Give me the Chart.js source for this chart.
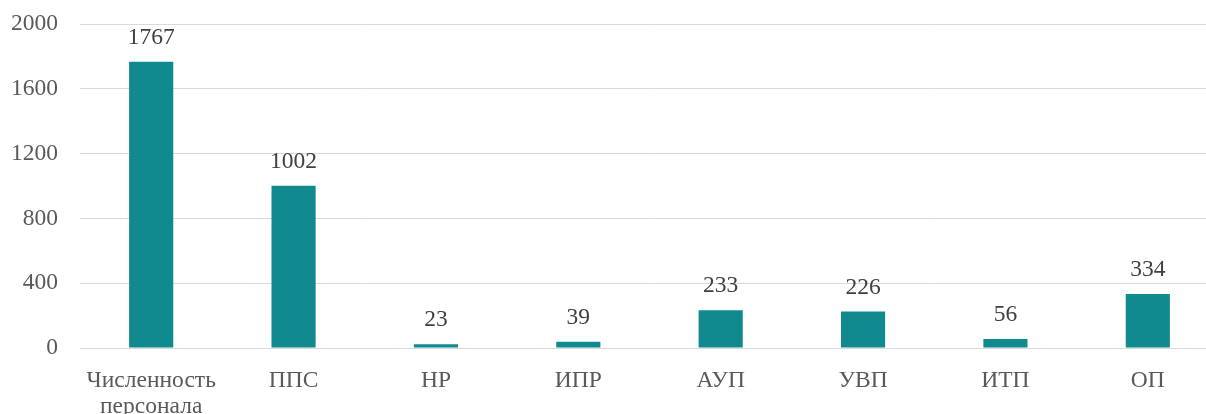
<!DOCTYPE html>
<html>
<head>
<meta charset="utf-8">
<script src="https://cdn.jsdelivr.net/npm/chart.js@4"></script>
<style>
  html, body { margin: 0; padding: 0; background: #fff; overflow: hidden; }
  #wrap { width: 1220px; height: 416px; }
</style>
</head>
<body>
<div id="wrap"><canvas id="staffChart"></canvas></div>
<script>
// Численность персонала по категориям
const categories = [["Численность", "персонала"], "ППС", "НР", "ИПР", "АУП", "УВП", "ИТП", "ОП"];
const staffCounts = [1767, 1002, 23, 39, 233, 226, 56, 334];
const yTicks = [0, 400, 800, 1200, 1600, 2000];

const barColor = "#118a8f";
const fontFamily = "'Liberation Serif', 'Times New Roman', serif";
const fontSize = 23.5;

// value labels above the bars
const valueLabels = {
  id: "valueLabels",
  afterDatasetsDraw(chart) {
    const ctx = chart.ctx;
    const meta = chart.getDatasetMeta(0);
    ctx.save();
    ctx.font = fontSize + "px " + fontFamily;
    ctx.fillStyle = "#404040";
    ctx.textAlign = "center";
    ctx.textBaseline = "middle";
    meta.data.forEach((bar, i) => {
      ctx.fillText(staffCounts[i], bar.x, bar.y - 24);
    });
    ctx.restore();
  }
};

const ctx = document.getElementById("staffChart").getContext("2d");
new Chart(ctx, {
  type: "bar",
  data: {
    labels: categories,
    datasets: [{
      data: staffCounts,
      backgroundColor: barColor,
      barPercentage: 0.31,
      categoryPercentage: 1
    }]
  },
  options: {
    responsive: true,
    maintainAspectRatio: false,
    animation: false,
    layout: { padding: { top: 1, right: 1, left: 0, bottom: 0 } },
    plugins: {
      legend: { display: false },
      tooltip: { enabled: false }
    },
    scales: {
      x: {
        afterFit(scale) { scale.height = 68; },
        grid: { display: false, drawTicks: false },
        border: { display: true, color: "#d9d9d9", width: 1 },
        ticks: {
          color: "#595959",
          padding: 20,
          maxRotation: 0,
          autoSkip: false,
          font: { family: fontFamily, size: fontSize, lineHeight: 1.1 }
        }
      },
      y: {
        min: 0,
        max: 2000,
        afterFit(scale) {
          scale.width = 80;
          scale.paddingTop = 24;
          scale.paddingBottom = 0;
        },
        afterBuildTicks(scale) { scale.ticks = yTicks.map(v => ({ value: v })); },
        grid: { color: "#d9d9d9", drawTicks: false },
        border: { display: false },
        ticks: {
          color: "#595959",
          padding: 22,
          callback: v => String(v),
          font: { family: fontFamily, size: fontSize }
        }
      }
    }
  },
  plugins: [valueLabels]
});
</script>
</body>
</html>
